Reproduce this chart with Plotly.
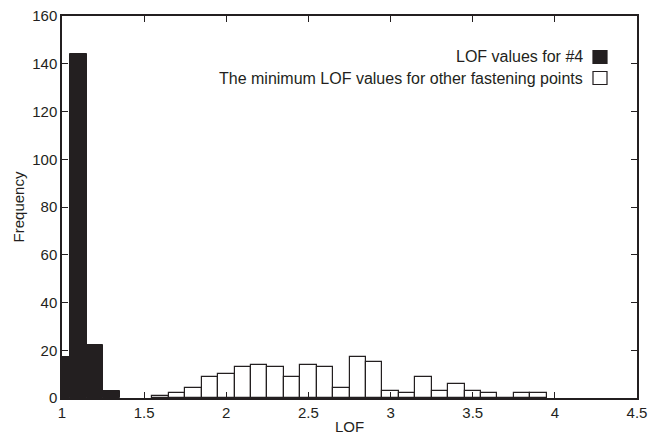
import plotly.graph_objects as go

# Data
lof4_centers = [1.0, 1.1, 1.2, 1.3]
lof4_counts = [17, 144, 22, 3]

other_centers = [1.6, 1.7, 1.8, 1.9, 2.0, 2.1, 2.2, 2.3, 2.4, 2.5, 2.6, 2.7, 2.8, 2.9,
                 3.0, 3.1, 3.2, 3.3, 3.4, 3.5, 3.6, 3.7, 3.8, 3.9]
other_counts = [1, 2, 4, 9, 10, 13, 14, 13, 9, 14, 13, 4, 17, 15,
                3, 2, 9, 3, 6, 3, 2, 0, 2, 2]

x_ticks = [1, 1.5, 2, 2.5, 3, 3.5, 4, 4.5]
x_tick_labels = ["1", "1.5", "2", "2.5", "3", "3.5", "4", "4.5"]
y_ticks = [0, 20, 40, 60, 80, 100, 120, 140, 160]

legend_labels = ["LOF values for #4", "The minimum LOF values for other fastening points"]

INK = "#231f20"
FONT = "Liberation Sans, Arial, sans-serif"

fig = go.Figure()
fig.add_trace(go.Bar(x=lof4_centers, y=lof4_counts, width=0.1,
                     marker=dict(color=INK, line=dict(color=INK, width=1)),
                     name=legend_labels[0], showlegend=False))
fig.add_trace(go.Bar(x=other_centers, y=other_counts, width=0.1,
                     marker=dict(color="white", line=dict(color=INK, width=1.2)),
                     name=legend_labels[1], showlegend=False))

W, H = 648, 436
ml, mr, mt, mb = 62, 11, 16, 38
pw, ph = W - ml - mr, H - mt - mb

def px_to_paper(xp, yp):
    return (xp - ml) / pw, 1 - (yp - mt) / ph

# Manual legend (text right-aligned, swatch on the right)
legend_rows = [(legend_labels[0], INK, 57), (legend_labels[1], "white", 78)]
for text, col, yc in legend_rows:
    tx, ty = px_to_paper(585, yc)
    fig.add_annotation(x=tx, y=ty, xref="paper", yref="paper", text=text,
                       showarrow=False, xanchor="right", yanchor="middle",
                       font=dict(family=FONT, size=16, color=INK))
    x0, y0 = px_to_paper(593, yc - 6.5)
    x1, y1 = px_to_paper(607, yc + 6.5)
    fig.add_shape(type="rect", xref="paper", yref="paper", x0=x0, x1=x1, y0=y1, y1=y0,
                  fillcolor=col, line=dict(color=INK, width=1.2))

fig.update_layout(
    width=W, height=H,
    margin=dict(l=ml, r=mr, t=mt, b=mb, autoexpand=False),
    plot_bgcolor="white", paper_bgcolor="white",
    barmode="overlay", bargap=0,
    font=dict(family=FONT, size=15, color=INK),
    showlegend=False,
)
fig.update_xaxes(range=[1, 4.5], tickvals=x_ticks, ticktext=x_tick_labels,
                 showgrid=False, zeroline=False, showline=True, linecolor=INK, linewidth=1.5,
                 mirror="allticks", ticks="inside", ticklen=6, tickcolor=INK, tickwidth=1.2,
                 automargin=False,
                 title=dict(text="LOF", standoff=2, font=dict(size=15)),
                 tickfont=dict(size=15))
fig.update_yaxes(range=[0, 160], tickvals=y_ticks,
                 showgrid=False, zeroline=False, showline=True, linecolor=INK, linewidth=1.5,
                 mirror="allticks", ticks="inside", ticklen=6, tickcolor=INK, tickwidth=1.2,
                 automargin=False,
                 title=dict(text="Frequency", standoff=4, font=dict(size=15)),
                 tickfont=dict(size=15))

fig.write_html("out.html")
